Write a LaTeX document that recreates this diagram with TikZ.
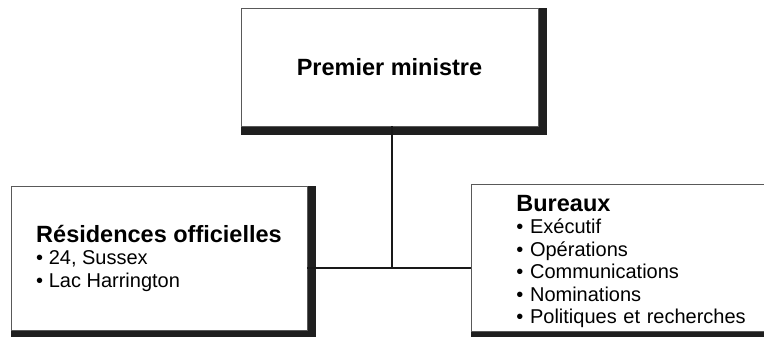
\documentclass[tikz,border=0pt]{standalone}
\usepackage{fontspec}
\setmainfont{Liberation Sans}
\usetikzlibrary{backgrounds}

\newcommand{\hd}[1]{{\fontsize{23.5}{22.5}\selectfont\bfseries #1}}

\begin{document}
\begin{tikzpicture}[x=1pt, y=-1pt,
  office/.style={draw=black!65, line width=0.8pt, fill=white,
    minimum height=144pt, font=\fontsize{20}{22.5}\selectfont},
  shade/.style={fill=black!88},
  link/.style={line width=2pt, black!90},
]
  \useasboundingbox (0,0) rectangle (764,337);

  \node[office, minimum width=297pt, minimum height=118pt,
    font=\fontsize{23.5}{26}\selectfont\bfseries] (pm) at (389.5,67) {Premier ministre};
  \node[office, minimum width=296pt, align=left] (res) at (159,258)
    {\hd{Résidences officielles}\\ • 24, Sussex\\ • Lac Harrington};
  \node[office, anchor=west, inner xsep=45pt, text width=232pt, align=left] (bur) at (471,258)
    {\rule{0pt}{23pt}\hd{Bureaux}\\ • Exécutif\\ • Opérations\\ • Communications\\ • Nominations\\ • Politiques et recherches};

  % shadows behind the boxes
  \begin{scope}[on background layer]
    \foreach \n in {pm,res,bur}
      \fill[shade] (\n.north west) rectangle ([shift={(9pt,-9pt)}]\n.south east);
  \end{scope}

  \coordinate (jn) at (392,268);
  \draw[link] (pm.south -| jn) -- (jn);
  \draw[link] (res.east |- jn) -- (bur.west |- jn);
\end{tikzpicture}
\end{document}
